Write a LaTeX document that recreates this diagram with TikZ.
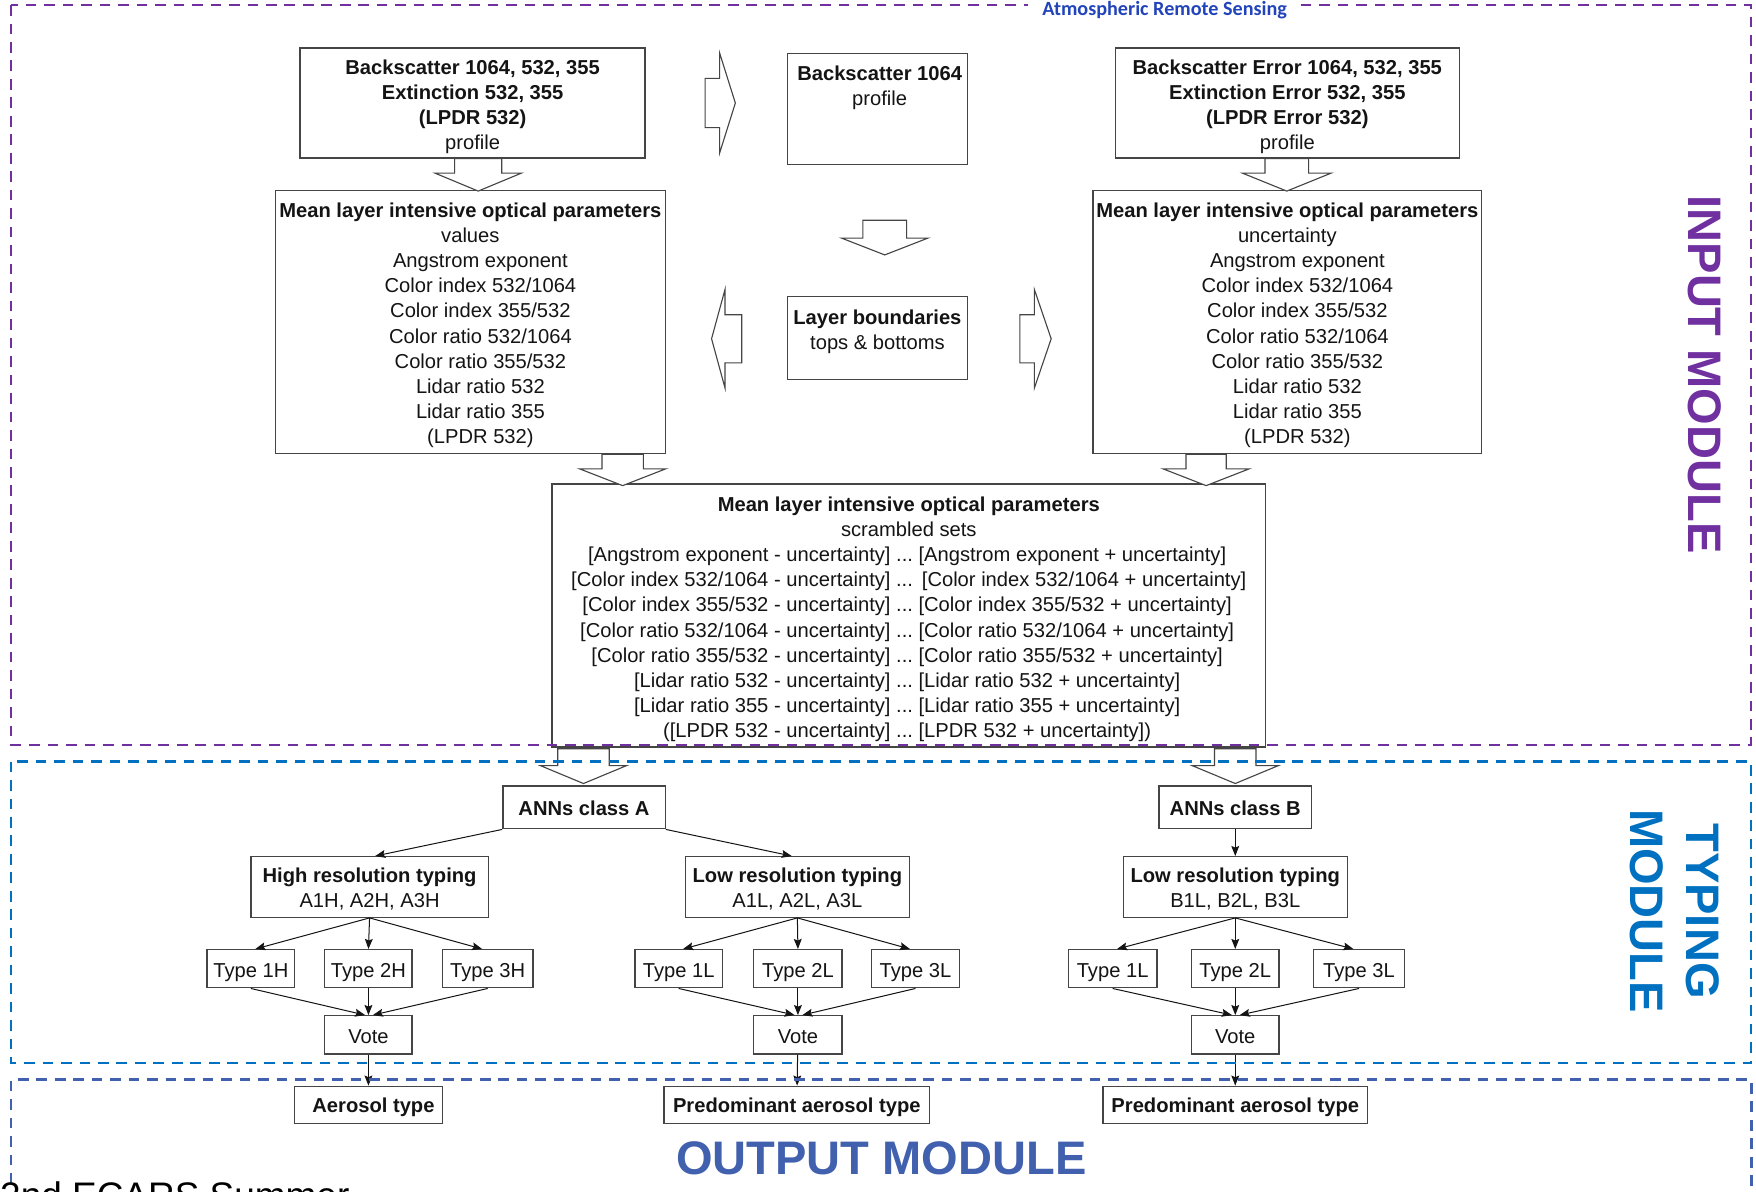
\documentclass[tikz,border=0pt]{standalone}
\usepackage{fontspec}
\setmainfont{Liberation Sans}
\newfontfamily\carl{Carlito}
\usetikzlibrary{arrows.meta,calc}
\definecolor{purp}{HTML}{7030A0}
\definecolor{typblue}{HTML}{0070C0}
\definecolor{outblue}{HTML}{4161AF}
\definecolor{atmblue}{HTML}{2244BB}
\definecolor{ink}{HTML}{141414}
\definecolor{edge}{HTML}{454545}
\newcommand\shf{\hspace*{18pt}}
\newcommand\tp[1]{\rule{0pt}{#1pt}}
\begin{document}
\begin{tikzpicture}[x=1pt,y=-1pt,
  every node/.style={font=\fontsize{18}{22.4}\selectfont, text=ink},
  box/.style={draw=edge, line width=1.25pt, fill=white, align=center, inner sep=1pt},
  txt/.style={align=center, inner sep=0pt},
  blk/.style={draw=edge, line width=1pt, fill=white, line join=miter},
  con/.style={draw=ink, line width=0.9pt, -{Stealth[length=9pt,width=7pt,inset=1.5pt]}},
  modframe/.style={line width=2pt, dash pattern=on 9.5pt off 7pt},
  modlabel/.style={font=\bfseries\fontsize{42}{50}\selectfont, inner sep=0pt, align=center},
  pics/bdown/.style args={#1/#2/#3/#4}{code={\draw[blk] (-#1,0) -- (-#1,#3) -- (-#2,#3) -- (0,#3+#4) -- (#2,#3) -- (#1,#3) -- (#1,0) -- cycle;}},
  pics/bright/.style args={#1/#2/#3/#4}{code={\draw[blk] (0,-#1) -- (#3,-#1) -- (#3,-#2) -- (#3+#4,0) -- (#3,#2) -- (#3,#1) -- (0,#1) -- cycle;}},
  pics/bleft/.style args={#1/#2/#3/#4}{code={\draw[blk] (0,-#1) -- (-#3,-#1) -- (-#3,-#2) -- (-#3-#4,0) -- (-#3,#2) -- (-#3,#1) -- (0,#1) -- cycle;}},
]
\useasboundingbox (0,0) rectangle (1568,1063.5);
\clip (0,0) rectangle (1568,1063.5);
\fill[white] (0,0) rectangle (1568,1063.5);

% ---------------- INPUT MODULE ----------------
\node[box, minimum width=308, minimum height=98] (bs) at (422,92)
  {\tp{20}\textbf{Backscatter 1064, 532, 355}\\\textbf{Extinction 532, 355}\\\textbf{(LPDR 532)}\\profile};
\node[box, minimum width=161, minimum height=99] (b1064) at (783.5,97.5) {};
\node[txt, anchor=north] (b1064t) at ($(b1064.north)+(2,11)$) {\textbf{Backscatter 1064}\\profile};
\node[box, minimum width=307, minimum height=98] (err) at (1149.5,92)
  {\tp{20}\textbf{Backscatter Error 1064, 532, 355}\\\textbf{Extinction Error 532, 355}\\\textbf{(LPDR Error 532)}\\profile};

\node[box, minimum width=348, minimum height=235] (val) at (420,287.5)
  {\tp{19}\textbf{Mean layer intensive optical parameters}\\values\\\shf Angstrom exponent\\\shf Color index 532/1064\\\shf Color index 355/532\\\shf Color ratio 532/1064\\\shf Color ratio 355/532\\\shf Lidar ratio 532\\\shf Lidar ratio 355\\\shf (LPDR 532)};
\node[box, minimum width=347, minimum height=235] (unc) at (1149.5,287.5)
  {\tp{19}\textbf{Mean layer intensive optical parameters}\\uncertainty\\\shf Angstrom exponent\\\shf Color index 532/1064\\\shf Color index 355/532\\\shf Color ratio 532/1064\\\shf Color ratio 355/532\\\shf Lidar ratio 532\\\shf Lidar ratio 355\\\shf (LPDR 532)};

\node[box, minimum width=161, minimum height=74] (lb) at (783.5,302) {};
\node[txt, anchor=north] (lbt) at ($(lb.north)+(0,12)$) {\textbf{Layer boundaries}\\tops \& bottoms};

\node[box, minimum width=637, minimum height=235] (scr) at (811.5,549.5)
  {\tp{23}\textbf{Mean layer intensive optical parameters}\\scrambled sets\\
   \begin{tabular}[t]{@{}r@{\ ...\ }l@{}}
   {[}Angstrom exponent - uncertainty] & {[}Angstrom exponent + uncertainty]\\
   {[}Color index 532/1064 - uncertainty] & \,{[}Color index 532/1064 + uncertainty]\\
   {[}Color index 355/532 - uncertainty] & {[}Color index 355/532 + uncertainty]\\
   {[}Color ratio 532/1064 - uncertainty] & {[}Color ratio 532/1064 + uncertainty]\\
   {[}Color ratio 355/532 - uncertainty] & {[}Color ratio 355/532 + uncertainty]\\
   {[}Lidar ratio 532 - uncertainty] & {[}Lidar ratio 532 + uncertainty]\\
   {[}Lidar ratio 355 - uncertainty] & {[}Lidar ratio 355 + uncertainty]\\
   ({[}LPDR 532 - uncertainty] & {[}LPDR 532 + uncertainty])
   \end{tabular}};

% block arrows
\pic at ($(bs.east)+(53,0)$) {bright={22/44.5/13/14}};
\pic at ($(bs.south)+(5,0)$) {bdown={21/38.5/13/16}};
\pic at ($(err.south)+(-0.5,0)$) {bdown={19.5/39.5/13/16}};
\pic at ($(b1064.south)+(6.5,49)$) {bdown={19.5/38.5/16/15}};
\pic at ($(lb.west)+(-40,0.5)$) {bleft={21.5/44/15/12}};
\pic at ($(lb.east)+(46,0.5)$) {bright={21.5/44/13/15}};
\pic at ($(val.south)+(136,0)$) {bdown={18.5/38.5/13/15}};
\pic at ($(unc.south)+(-72.5,0)$) {bdown={18/38.5/13/15}};
\pic at ($(scr.south)+(-290.5,1)$) {bdown={23/38.5/15/16}};
\pic at ($(scr.south)+(291.5,1)$) {bdown={18.5/38.5/15/16}};

% ---------------- TYPING MODULE ----------------
\node[box, minimum width=145, minimum height=38] (annA) at (521.5,721) {\tp{15}\textbf{ANNs class A}};
\node[box, minimum width=136, minimum height=38] (annB) at (1103,721) {\tp{15}\textbf{ANNs class B}};
\node[box, minimum width=212, minimum height=54] (hrA) at (330,792) {\tp{17}\textbf{High resolution typing}\\A1H, A2H, A3H};
\node[box, minimum width=200, minimum height=54] (lrA) at (712,792) {\tp{17}\textbf{Low resolution typing}\\A1L, A2L, A3L};
\node[box, minimum width=200, minimum height=54] (lrB) at (1103,792) {\tp{17}\textbf{Low resolution typing}\\B1L, B2L, B3L};

\node[box, minimum width=78, minimum height=34] (t1H) at (224,865) {\tp{19}Type 1H};
\node[box, minimum width=78, minimum height=34] (t2H) at (329,865) {\tp{19}Type 2H};
\node[box, minimum width=81, minimum height=34] (t3H) at (435.5,865) {\tp{19}Type 3H};
\node[box, minimum width=78, minimum height=34] (t1LA) at (606,865) {\tp{19}Type 1L};
\node[box, minimum width=79, minimum height=34] (t2LA) at (712.5,865) {\tp{19}Type 2L};
\node[box, minimum width=79, minimum height=34] (t3LA) at (817.5,865) {\tp{19}Type 3L};
\node[box, minimum width=79, minimum height=34] (t1LB) at (993.5,865) {\tp{19}Type 1L};
\node[box, minimum width=78, minimum height=34] (t2LB) at (1103,865) {\tp{19}Type 2L};
\node[box, minimum width=81, minimum height=34] (t3LB) at (1213.5,865) {\tp{19}Type 3L};

\node[box, minimum width=78, minimum height=34] (vH) at (329,924) {\tp{15}Vote};
\node[box, minimum width=79, minimum height=34] (vLA) at (712.5,924) {\tp{15}Vote};
\node[box, minimum width=78, minimum height=34] (vLB) at (1103,924) {\tp{15}Vote};

\node[box, minimum width=132, minimum height=33] (aero) at (329,986.5) {\tp{18}\hspace*{9pt}\textbf{Aerosol type}};
\node[box, minimum width=237, minimum height=33] (predA) at (711.5,986.5) {\tp{18}\textbf{Predominant aerosol type}};
\node[box, minimum width=236, minimum height=33] (predB) at (1103,986.5) {\tp{18}\textbf{Predominant aerosol type}};

% connectors
\draw[con] (annA.south west) -- ($(hrA.north)+(5,0)$);
\draw[con] (annA.south east) -- ($(lrA.north)+(-5,0)$);
\draw[con] (annB) -- (lrB);

\draw[con] (hrA.south) -- ($(t1H.north)+(4,0)$);
\draw[con] (hrA.south) -- (t2H.north);
\draw[con] (hrA.south) -- ($(t3H.north)+(-5,0)$);
\draw[con] (lrA.south) -- ($(t1LA.north)+(4,0)$);
\draw[con] (lrA.south) -- (t2LA.north);
\draw[con] (lrA.south) -- ($(t3LA.north)+(-5,0)$);
\draw[con] (lrB.south) -- ($(t1LB.north)+(4,0)$);
\draw[con] (lrB.south) -- (t2LB.north);
\draw[con] (lrB.south) -- ($(t3LB.north)+(-5,0)$);

\draw[con] (t1H.south) -- ($(vH.north)+(-3,0)$);
\draw[con] (t2H.south) -- (vH.north);
\draw[con] (t3H.south) -- ($(vH.north)+(4,0)$);
\draw[con] (t1LA.south) -- ($(vLA.north)+(-3,0)$);
\draw[con] (t2LA.south) -- (vLA.north);
\draw[con] (t3LA.south) -- ($(vLA.north)+(4,0)$);
\draw[con] (t1LB.south) -- ($(vLB.north)+(-3,0)$);
\draw[con] (t2LB.south) -- (vLB.north);
\draw[con] (t3LB.south) -- ($(vLB.north)+(4,0)$);

\draw[con] (vH) -- (aero);
\draw[con] (vLA) -- (predA);
\draw[con] (vLB) -- (predB);

% ---------------- module frames and labels ----------------
\draw[purp, modframe] (10,4.5) rectangle (1563.5,665);
\draw[typblue, modframe] (10,680) rectangle (1563.5,949);
\draw[outblue, modframe] (10,1090) -- (10,964) -- (1564,964) -- (1564,1090);

\node[fill=white, minimum width=244, minimum height=18, inner sep=0pt,
      font=\carl\bfseries\fontsize{18}{20}\selectfont, text=atmblue] (ars) at (1040,9) {Atmospheric Remote Sensing};

\node[modlabel, rotate=-90, text=purp] (inlab) at (1522,334.5) {INPUT MODULE};
\node[modlabel, rotate=-90, text=typblue] (typlab) at (1495,813.5) {TYPING\\MODULE};
\node[modlabel, text=outblue] (outlab) at (787,1034) {OUTPUT MODULE};

\node[font=\fontsize{33}{40}\selectfont, text=black, anchor=base west, inner sep=0pt] (ecars) at (0,1078.7) {2nd ECARS Summer};
\end{tikzpicture}
\end{document}
